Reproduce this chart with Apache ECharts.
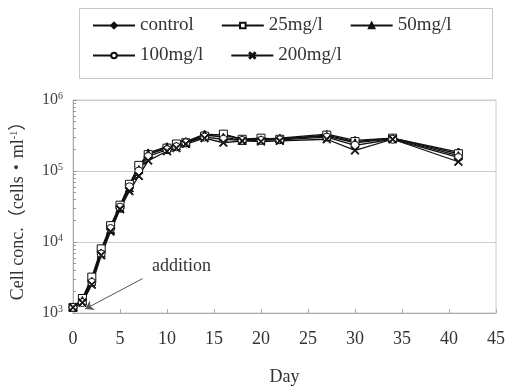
<!DOCTYPE html>
<html>
<head>
<meta charset="utf-8">
<script src="https://cdn.jsdelivr.net/npm/echarts@6.0.0/dist/echarts.min.js"></script>
<style>
  html, body { margin: 0; padding: 0; background: #fff; }
  #chart { width: 508px; height: 391px; }
</style>
</head>
<body>
<div id="chart"></div>
<script>
// days of culture
const days = [0, 1, 2, 3, 4, 5, 6, 7, 8, 10, 11, 12, 14, 16, 18, 20, 22, 27, 30, 34, 41];

// cell concentration (cells/ml) per treatment
const control = [1200, 1500, 3000, 7500, 16000, 32000, 62000, 115000, 180000, 220000, 230000, 260000, 330000, 320000, 280000, 280000, 290000, 330000, 270000, 290000, 185000];
const mg25 = [1200, 1600, 3200, 8000, 17000, 33000, 65000, 120000, 170000, 210000, 240000, 250000, 310000, 330000, 280000, 290000, 280000, 320000, 260000, 290000, 175000];
const mg50 = [1200, 1500, 2800, 7000, 15000, 30000, 58000, 105000, 175000, 215000, 225000, 255000, 320000, 300000, 270000, 275000, 285000, 310000, 250000, 285000, 165000];
const mg100 = [1200, 1400, 2700, 6800, 15500, 31000, 60000, 100000, 160000, 200000, 220000, 250000, 300000, 280000, 270000, 270000, 275000, 300000, 230000, 280000, 155000];
const mg200 = [1200, 1400, 2500, 6500, 14000, 29000, 52000, 85000, 140000, 190000, 210000, 240000, 290000, 250000, 265000, 260000, 265000, 280000, 195000, 280000, 135000];

const seriesNames = ["control", "25mg/l", "50mg/l", "100mg/l", "200mg/l"];
const xTicks = [0, 5, 10, 15, 20, 25, 30, 35, 40, 45];

const serif = "'Liberation Serif', 'Noto Sans CJK JP', serif";
const crossPath = "path://M0,1L1,0L5,4L9,0L10,1L6,5L10,9L9,10L5,6L1,10L0,9L4,5Z";

const pairs = (vals) => days.map((d, i) => [d, vals[i]]);

const makeSeries = (name, vals, symbol, fill) => ({
  name: name,
  type: "line",
  data: pairs(vals),
  symbol: symbol,
  symbolSize: 8,
  lineStyle: { color: "#111", width: 1.3 },
  itemStyle: { color: fill, borderColor: "#111", borderWidth: 1 },
});

const chart = echarts.init(document.getElementById("chart"));

const legendBase = {
  left: 92,
  orient: "horizontal",
  itemWidth: 42,
  itemHeight: 7,
  itemGap: 27,
  padding: 0,
  textStyle: { fontFamily: serif, fontSize: 19, color: "#333", width: 64 },
};

const option = {
  animation: false,
  backgroundColor: "#fff",
  grid: {
    left: 73,
    right: 11,
    top: 100,
    bottom: 75,
    show: true,
    borderColor: "#ccc",
    borderWidth: 1,
  },
  legend: [
    Object.assign({}, legendBase, { top: 16, data: seriesNames.slice(0, 3) }),
    Object.assign({}, legendBase, { top: 46, data: seriesNames.slice(3) }),
  ],
  graphic: [
    {
      type: "rect",
      left: 77,
      top: 6,
      shape: { width: 413, height: 70 },
      style: { fill: "none", stroke: "#c8c8c8", lineWidth: 1 },
      silent: true,
    },
    {
      type: "text",
      left: 152,
      top: 257,
      style: { text: "addition", font: "18px " + serif, fill: "#333" },
      silent: true,
    },
  ],
  xAxis: {
    type: "value",
    min: xTicks[0],
    max: xTicks[xTicks.length - 1],
    interval: 5,
    name: "Day",
    nameLocation: "middle",
    nameGap: 55,
    nameTextStyle: { fontFamily: serif, fontSize: 18, color: "#333" },
    axisLine: { lineStyle: { color: "#aaa" } },
    axisTick: { inside: true, length: 4, lineStyle: { color: "#aaa" } },
    axisLabel: { fontFamily: serif, fontSize: 18, color: "#333", margin: 17 },
    splitLine: { show: false },
  },
  yAxis: {
    type: "log",
    logBase: 10,
    min: 1000,
    max: 1000000,
    name: "Cell conc.（cells・ml{s|-1}）",
    nameLocation: "middle",
    nameRotate: 90,
    nameGap: 46,
    nameTextStyle: {
      fontFamily: serif,
      fontSize: 18,
      color: "#333",
      rich: { s: { fontFamily: serif, fontSize: 10, color: "#333", verticalAlign: "top", padding: [0, 0, 8, 0] } },
    },
    axisLine: { show: true, lineStyle: { color: "#aaa" } },
    axisTick: { show: true, inside: true, length: 4, lineStyle: { color: "#999" } },
    minorTick: { show: true, splitNumber: 9, length: 3, lineStyle: { color: "#999" } },
    axisLabel: {
      margin: 10,
      formatter: (v) => "10{s|" + Math.round(Math.log10(v)) + "}",
      rich: {
        s: { fontFamily: serif, fontSize: 10, color: "#444", verticalAlign: "top", padding: [0, 0, 8, 0] },
      },
      fontFamily: serif,
      fontSize: 16,
      color: "#444",
    },
    splitLine: { show: true, lineStyle: { color: "#ccc" } },
  },
  series: [
    Object.assign(makeSeries("control", control, "diamond", "#111"), {
      markLine: {
        silent: true,
        symbol: ["none", "arrow"],
        symbolSize: 8,
        label: { show: false },
        lineStyle: { color: "#555", width: 1, type: "solid" },
        data: [[{ coord: [7.4, 3050] }, { coord: [1.3, 1140] }]],
      },
    }),
    makeSeries("25mg/l", mg25, "rect", "#fff"),
    makeSeries("50mg/l", mg50, "triangle", "#111"),
    makeSeries("100mg/l", mg100, "circle", "#fff"),
    makeSeries("200mg/l", mg200, crossPath, "#111"),
  ],
};

chart.setOption(option);
</script>
</body>
</html>
